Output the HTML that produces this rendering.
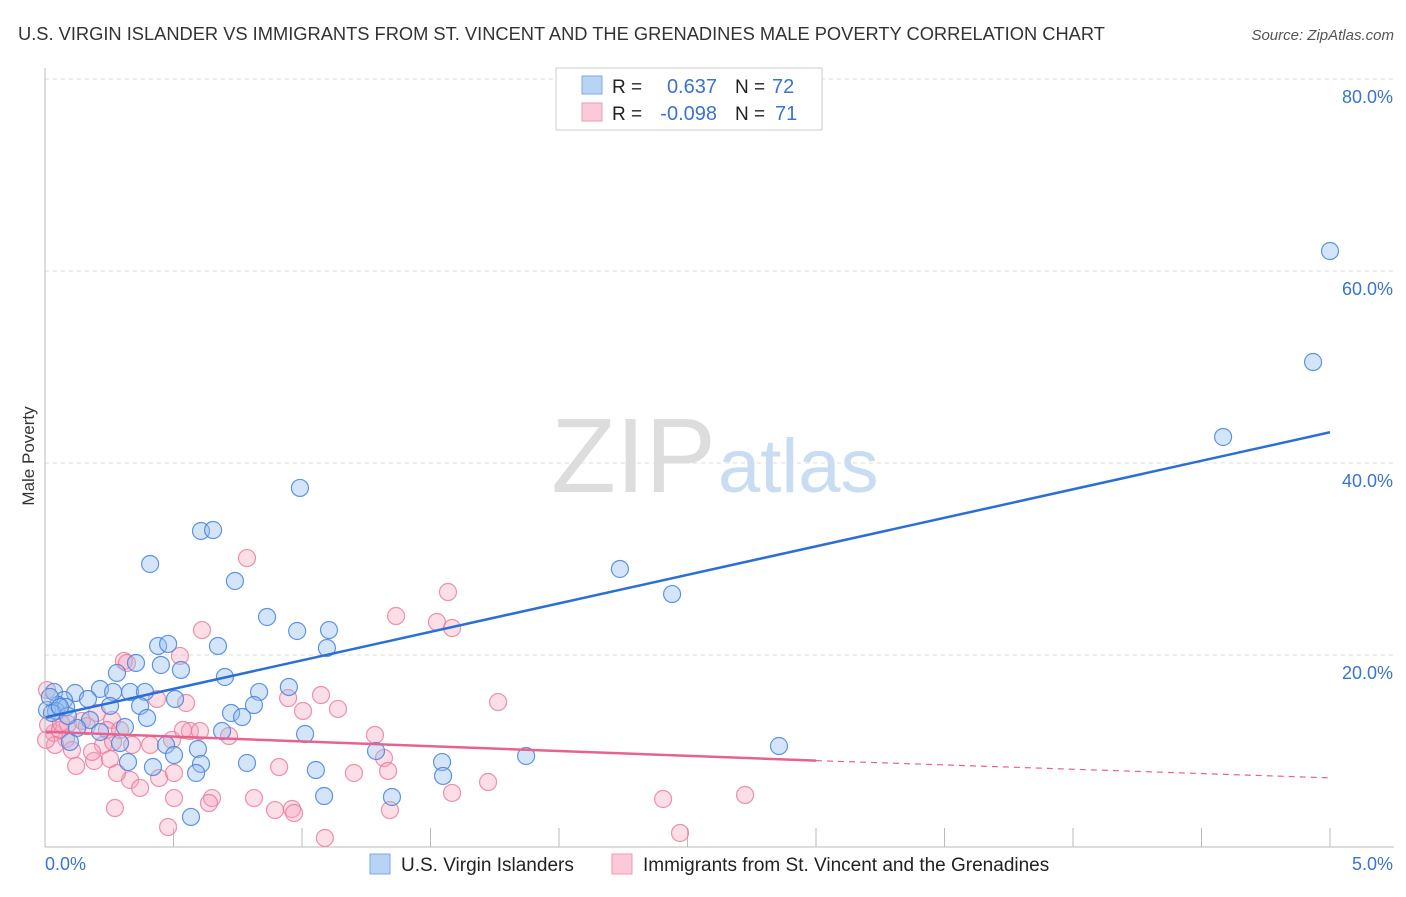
<!DOCTYPE html>
<html><head><meta charset="utf-8"><style>
body{margin:0;background:#fff;font-family:"Liberation Sans",sans-serif}
svg text{font-family:"Liberation Sans",sans-serif}
</style></head><body>
<svg id="chart" width="1406" height="892">
<text x="18" y="40" font-size="18.3" fill="#333">U.S. VIRGIN ISLANDER VS IMMIGRANTS FROM ST. VINCENT AND THE GRENADINES MALE POVERTY CORRELATION CHART</text>
<text x="1394" y="40" font-size="15" fill="#555" font-style="italic" text-anchor="end">Source: ZipAtlas.com</text>
<text x="34" y="456" font-size="17" fill="#333" text-anchor="middle" transform="rotate(-90 34 456)">Male Poverty</text>
<text x="716" y="492" font-size="106" fill="#ddd" text-anchor="end" font-family="Liberation Serif">ZIP</text>
<text x="718" y="492" font-size="76" fill="#c8dcf2">atlas</text>
<g id="grid"></g><g id="pts"></g><g id="lines"></g>
<line x1="45" y1="68" x2="45" y2="847" stroke="#bbb"/>
<line x1="45" y1="847" x2="1394" y2="847" stroke="#bbb"/>
<text x="45" y="870" font-size="18" fill="#3a73d1">0.0%</text>
<text x="1393" y="870" font-size="18" fill="#3a73d1" text-anchor="end">5.0%</text>
<g>
<rect x="556" y="68" width="266" height="62" fill="#fff" stroke="#ccc"/>
<rect x="582" y="76" width="20" height="18" fill="#b9d3f5" stroke="#7eaae6"/>
<rect x="582" y="103" width="20" height="18" fill="#fbc9d7" stroke="#ee9ab2"/>
<text x="612" y="93" font-size="19" fill="#222">R =</text><text x="717" y="93" font-size="20" fill="#3a73d1" text-anchor="end">0.637</text>
<text x="735" y="93" font-size="19" fill="#222">N =</text><text x="772" y="93" font-size="20" fill="#3a73d1">72</text>
<text x="612" y="120" font-size="19" fill="#222">R =</text><text x="717" y="120" font-size="20" fill="#3a73d1" text-anchor="end">-0.098</text>
<text x="735" y="120" font-size="19" fill="#222">N =</text><text x="775" y="120" font-size="20" fill="#3a73d1">71</text>
</g>
<g>
<rect x="370" y="854" width="20" height="20" fill="#b9d3f5" stroke="#7eaae6"/>
<text x="401" y="871" font-size="19" fill="#222">U.S. Virgin Islanders</text>
<rect x="612" y="854" width="20" height="20" fill="#fbc9d7" stroke="#ee9ab2"/>
<text x="643" y="871" font-size="19" fill="#222">Immigrants from St. Vincent and the Grenadines</text>
</g>
</svg>
<script>
const yTicks=[20,40,60,80];
const xTicks=[0,0.5,1,1.5,2,2.5,3,3.5,4,4.5,5];
const bluePx=[[1330,251],[1313,362],[1223,437],[300,488],[201,531],[213,530],[150,564],[235,581],[620,569],[672,594],[267,617],[297,631],[329,630],[327,648],[158,646],[168,644],[218,646],[161,665],[181,670],[136,663],[225,677],[117,673],[100,689],[113,692],[130,692],[145,692],[289,687],[259,692],[175,699],[54,692],[75,693],[88,699],[64,700],[110,706],[140,706],[147,718],[231,713],[254,705],[242,717],[58,705],[47,710],[90,720],[125,727],[222,731],[305,734],[166,745],[198,749],[120,743],[70,742],[376,751],[526,756],[779,746],[128,762],[153,767],[174,755],[201,764],[247,763],[316,770],[442,762],[443,776],[196,773],[324,796],[392,797],[191,817],[50,697],[56,711],[66,707],[77,728],[100,732],[68,716],[52,713],[60,707]];
const pinkPx=[[247,558],[448,592],[396,616],[437,622],[452,628],[202,630],[180,656],[124,661],[127,663],[498,702],[321,695],[288,698],[303,711],[338,709],[186,703],[157,699],[375,735],[229,736],[190,731],[200,731],[112,720],[97,713],[82,721],[107,730],[120,730],[150,745],[172,740],[183,730],[103,745],[113,742],[132,745],[384,758],[388,771],[66,739],[54,733],[48,725],[47,690],[60,730],[72,750],[76,766],[94,761],[130,780],[159,778],[174,773],[140,788],[92,752],[279,767],[354,773],[452,793],[488,782],[663,799],[745,795],[174,798],[212,798],[254,798],[275,810],[292,809],[294,813],[390,810],[115,808],[168,827],[325,838],[680,833],[209,803],[55,745],[117,773],[110,759],[68,724],[87,726],[61,723],[46,740]];
const blueX=bluePx.map(p=>+((p[0]-45)/257).toFixed(3)), blueY=bluePx.map(p=>+((847-p[1])/9.6).toFixed(2));
const pinkX=pinkPx.map(p=>+((p[0]-45)/257).toFixed(3)), pinkY=pinkPx.map(p=>+((847-p[1])/9.6).toFixed(2));
const blueTrend=[[0,13.5],[5,43.2]];
const pinkTrend=[[0,12.0],[3,9.0],[5,7.2]];
const sx=v=>45+v*257, sy=v=>847-v*9.6;
const NS='http://www.w3.org/2000/svg';
const g=document.getElementById('grid'),pts=document.getElementById('pts'),ln=document.getElementById('lines');
function mk(tag,at,parent){const e=document.createElementNS(NS,tag);for(const k in at)e.setAttribute(k,at[k]);parent.appendChild(e);return e;}
yTicks.forEach(t=>{
 const l=mk('line',{x1:45,x2:1394,y1:sy(t),y2:sy(t),stroke:'#ddd','stroke-dasharray':'4,4'},g);
 
 
 const tx=mk('text',{x:1393,y:sy(t)+24,'font-size':18,fill:'#3a73d1','text-anchor':'end'},g);tx.textContent=t.toFixed(1)+'%';
 
 
});
xTicks.forEach(t=>{
 const l=mk('line',{x1:sx(t),x2:sx(t),y1:828,y2:847,stroke:'#bbb'},g);
 
 
});
function dots(X,Y,fill,stroke,name){X.forEach((x,i)=>{
 const c=mk('circle',{cx:sx(x),cy:sy(Y[i]),r:8.5,fill:fill,stroke:stroke,'stroke-width':1.2},pts);
 
 
});}
dots(pinkX,pinkY,'rgba(246,160,186,0.35)','rgba(232,120,155,0.8)','point-st-vincent');
dots(blueX,blueY,'rgba(150,190,240,0.4)','rgba(70,130,220,0.85)','point-virgin-islanders');
const bl=mk('line',{x1:sx(blueTrend[0][0]),y1:sy(blueTrend[0][1]),x2:sx(blueTrend[1][0]),y2:sy(blueTrend[1][1]),stroke:'#2a6fd6','stroke-width':2.5},ln);


const pl=mk('line',{x1:sx(pinkTrend[0][0]),y1:sy(pinkTrend[0][1]),x2:sx(pinkTrend[1][0]),y2:sy(pinkTrend[1][1]),stroke:'#e8628e','stroke-width':2.5},ln);


const pd=mk('line',{x1:sx(pinkTrend[1][0]),y1:sy(pinkTrend[1][1]),x2:sx(pinkTrend[2][0]),y2:sy(pinkTrend[2][1]),stroke:'#e8628e','stroke-width':1.2,'stroke-dasharray':'6,5'},ln);


</script>
</body></html>
